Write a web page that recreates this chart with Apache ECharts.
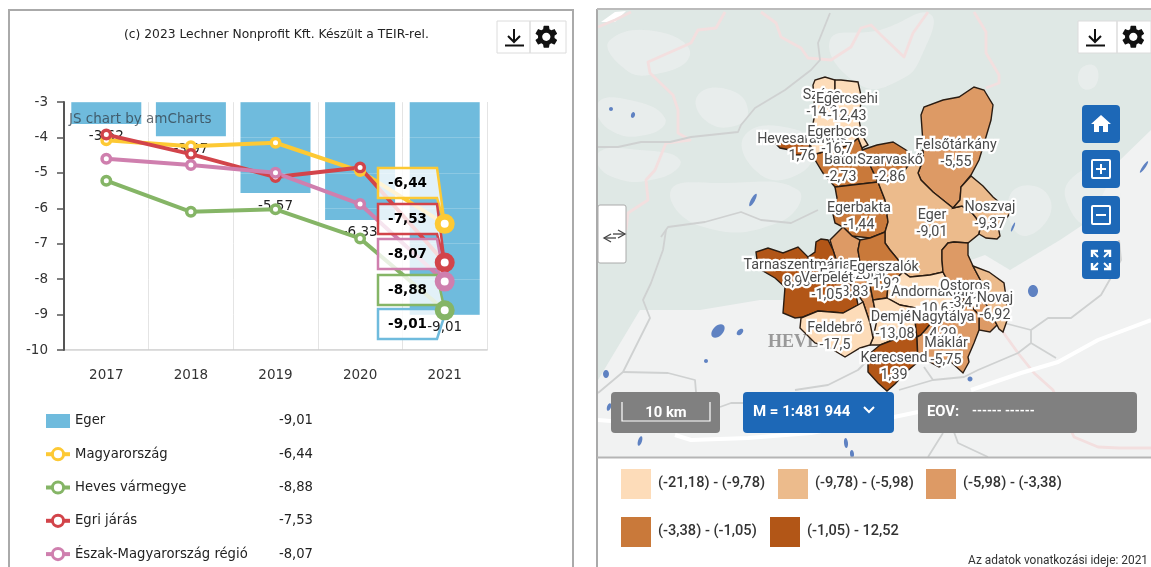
<!DOCTYPE html>
<html>
<head>
<meta charset="utf-8">
<title>Eger</title>
<script src="https://cdn.jsdelivr.net/npm/echarts@6/dist/echarts.min.js"></script>
<style>
  html, body { margin: 0; padding: 0; background: #fff; }
  #chart { width: 1151px; height: 567px; }
</style>
</head>
<body>
<div id="chart"></div>
<script>
// chart values
const years = ['2017', '2018', '2019', '2020', '2021'];
const yTicks = [-10, -3];
const egerValues = [-3.62, -3.97, -5.57, -6.33, -9.01];
const hungaryValues = [-4.08, -4.25, -4.15, -4.95, -6.44];
const hevesValues = [-5.22, -6.1, -6.03, -6.85, -8.88];
const districtValues = [-3.92, -4.47, -5.12, -4.85, -7.53];
const regionValues = [-4.6, -4.78, -5.0, -5.88, -8.07];
const seriesNames = ['Eger', 'Magyarország', 'Heves vármegye', 'Egri járás', 'Észak-Magyarország régió'];
const seriesColors = ['#6fbbdd', '#fdc934', '#85b566', '#d2444a', '#cf7fae'];

// municipalities, later ones paint their label over earlier ones
const muniNames = ['Hevesaranyos', 'Szúcs', 'Egercsehi', 'Bátor', 'Egerbocs', 'Szarvaskő', 'Felsőtárkány', 'Egerbakta', 'Eger', 'Noszvaj',
  'Tarnaszentmária', 'Egerszólát', 'Egerszalók', 'Verpelét', 'Andornaktálya', 'Ostoros', 'Novaj', 'Demjén', 'Nagytálya', 'Kerecsend', 'Maklár', 'Feldebrő'];
const muniValues = [1.76, -14.2, -12.43, -2.73, -16.7, -2.86, -5.55, -1.44, -9.01, -9.37,
  8.93, -3.83, -1.92, -1.05, -10.63, -3.41, -6.92, -13.08, 4.29, 1.39, -5.75, -17.5];

const classBreaks = [-21.18, -9.78, -5.98, -3.38, -1.05, 12.52];
const classColors = ['#fddcb9', '#ecbb8c', '#dd9a65', '#c9793a', '#b25617'];
const classLabels = ['(-21,18) - (-9,78)', '(-9,78) - (-5,98)', '(-5,98) - (-3,38)', '(-3,38) - (-1,05)', '(-1,05) - 12,52'];

// outlines and label anchors of the municipalities in page pixels
const muniShapes = {
  'Hevesaranyos': [[774,142],[785,138],[800,136],[810,145],[805,155],[795,155],[790,150],[780,148]],
  'Szúcs': [[815,113],[813,85],[815,80],[825,77],[835,80],[835,118],[827,112]],
  'Egercsehi': [[835,80],[841,80],[858,82],[862,100],[858,115],[835,118]],
  'Bátor': [[812,155],[823,173],[835,187],[878,182],[870,165],[862,148],[858,138],[850,145],[830,150]],
  'Egerbocs': [[815,113],[827,112],[835,118],[858,115],[862,135],[868,145],[862,148],[858,138],[850,145],[830,150],[812,155],[810,140]],
  'Szarvaskő': [[862,150],[877,145],[893,142],[906,150],[914,157],[905,170],[897,180],[878,182],[870,165]],
  'Felsőtárkány': [[921,115],[924,107],[943,100],[959,97],[974,87],[984,90],[993,105],[991,120],[983,147],[979,160],[971,175],[961,187],[960,200],[953,208],[943,200],[933,192],[921,180],[918,173],[923,160],[923,143]],
  'Egerbakta': [[835,187],[878,182],[885,200],[888,222],[885,232],[870,238],[852,236],[843,227],[835,223],[832,210],[837,198]],
  'Eger': [[914,157],[923,150],[923,160],[918,173],[921,180],[933,192],[943,200],[953,208],[962,206],[973,214],[981,224],[979,234],[968,243],[954,242],[948,243],[942,250],[942,260],[943,272],[930,275],[910,277],[903,272],[900,262],[890,250],[885,243],[885,232],[888,222],[885,200],[878,182],[897,180],[905,170]],
  'Noszvaj': [[961,187],[971,176],[983,186],[993,197],[1011,212],[1005,220],[998,226],[1000,236],[997,239],[986,238],[979,234],[981,224],[973,214],[962,206],[953,208],[960,200]],
  'Tarnaszentmária': [[758,268],[756,252],[768,248],[783,253],[798,247],[808,257],[812,275],[800,285],[785,287],[775,278]],
  'Egerszólát': [[843,227],[852,236],[860,240],[858,250],[862,275],[870,285],[873,300],[877,320],[870,323],[863,302],[855,290],[840,272],[833,250],[830,240]],
  'Egerszalók': [[860,240],[870,238],[885,232],[885,243],[890,250],[900,262],[903,272],[897,278],[888,285],[887,298],[873,300],[870,285],[862,275],[858,250]],
  'Verpelét': [[815,252],[816,242],[821,239],[828,240],[833,250],[840,272],[855,290],[858,305],[843,313],[818,311],[803,317],[795,318],[783,313],[785,287],[800,285],[812,275],[808,257]],
  'Andornaktálya': [[888,285],[897,278],[903,272],[910,277],[930,275],[943,272],[950,285],[965,300],[950,312],[932,322],[928,319],[915,319],[916,308],[900,305],[887,298]],
  'Ostoros': [[942,250],[948,243],[954,242],[968,243],[968,255],[973,266],[983,285],[984,300],[997,325],[990,332],[979,330],[979,315],[965,300],[950,285],[943,272],[942,260]],
  'Novaj': [[973,266],[989,272],[1004,283],[1006,297],[1009,315],[1003,332],[999,329],[997,325],[984,300],[983,285]],
  'Demjén': [[873,300],[887,298],[900,305],[916,308],[915,319],[916,330],[917,337],[898,338],[880,345],[870,345],[873,338],[877,320]],
  'Nagytálya': [[915,319],[928,319],[932,322],[927,328],[921,335],[917,337],[916,330]],
  'Kerecsend': [[868,362],[868,372],[878,383],[887,391],[895,384],[905,373],[918,362],[917,337],[898,338],[880,345],[868,355]],
  'Maklár': [[917,337],[921,335],[927,328],[932,322],[950,312],[965,300],[979,315],[979,330],[974,343],[968,357],[969,362],[963,373],[951,362],[939,367],[926,360],[918,362]],
  'Feldebrő': [[801,318],[818,311],[843,313],[858,305],[863,302],[870,323],[873,338],[870,345],[860,348],[845,357],[830,348],[815,343],[800,328]]
};
const muniLabelAt = {
  'Hevesaranyos': [802,140], 'Szúcs': [822,96], 'Egercsehi': [847,99.5], 'Bátor': [841,161], 'Egerbocs': [837,133],
  'Szarvaskő': [890,161], 'Felsőtárkány': [956,146], 'Egerbakta': [859,209], 'Eger': [932,216], 'Noszvaj': [990,208],
  'Tarnaszentmária': [797,266], 'Egerszólát': [853,276], 'Egerszalók': [884,268], 'Verpelét': [827,279], 'Andornaktálya': [937,293],
  'Ostoros': [965,287], 'Novaj': [995,299], 'Demjén': [895,318], 'Nagytálya': [943,318], 'Kerecsend': [894,359], 'Maklár': [946,344], 'Feldebrő': [835,329]
};

// base map scenery, page pixels
const forestArea = [[598,10],[1151,10],[1151,130],[1120,160],[1090,220],[1060,240],[1010,270],[985,255],[860,300],[760,300],[700,310],[640,310],[598,380]];
const clearings = [
  [[830,40],[880,30],[930,14],[922,55],[900,80],[860,85]],
  [[598,103],[630,100],[665,118],[650,134],[610,130]],
  [[598,153],[640,150],[680,160],[660,178],[610,176]],
  [[671,190],[720,183],[798,190],[780,222],[700,226]],
  [[698,95],[730,90],[748,110],[735,126],[705,120]],
  [[745,135],[790,128],[815,150],[790,178],[755,170]],
  [[610,40],[660,32],[690,55],[650,75],[620,65]],
  [[1070,180],[1100,170],[1120,200],[1090,225],[1068,205]],
  [[1010,195],[1040,188],[1050,215],[1020,235]],
  [[1080,70],[1095,66],[1096,85],[1082,88]]
];
const greyRoads = [
  [[598,147],[618,147],[641,142],[670,142],[691,137],[738,132],[741,125],[755,108],[785,90],[811,70],[820,60],[818,43],[830,13]],
  [[661,237],[668,227],[705,222],[741,212],[761,220],[791,223],[818,210]],
  [[666,230],[663,250],[651,283],[643,300],[650,318],[623,372],[598,393]],
  [[623,372],[668,373],[695,380],[696,392]],
  [[720,407],[731,403],[745,403]],
  [[795,390],[828,385],[858,370],[865,363]],
  [[1004,323],[1031,330],[1031,343],[1018,353],[978,370],[964,377],[933,380],[924,367]],
  [[1031,330],[1048,318],[1071,318],[1101,295],[1121,260],[1119,240]],
  [[1031,343],[1056,358]],
  [[933,380],[899,390]],
  [[954,432],[958,443],[988,457]],
  [[943,433],[928,457]]
];
const whiteRoads = [
  [[598,420],[611,421]],
  [[675,435],[691,440],[748,438],[811,433],[894,417],[918,412]],
  [[971,390],[1021,373],[1058,362],[1098,340],[1151,320]]
];
const pinkBorders = [
  [[598,27],[615,20],[631,12]],
  [[725,12],[716,28],[698,30],[691,43],[648,62],[650,73],[673,95],[678,110],[678,133],[690,140],[666,143],[655,170],[646,180],[648,200],[628,213],[626,230]],
  [[761,12],[776,23],[781,37],[801,48],[808,58],[831,60],[851,47],[861,28],[871,25],[881,35],[904,57],[913,33],[928,12]],
  [[974,12],[986,32],[986,53],[999,75],[999,83],[986,88]],
  [[1003,332],[1018,353],[1034,373],[1053,390],[1074,437],[1098,447],[1119,448],[1151,448]]
];
const lakes = [
  [718,331,8,5,0.8],[740,332,4,2.5,0.8],[606,374,3,4,0],[640,441,2,5,-0.3],[846,443,2,5,0.1],[852,454,2,4,0.1],
  [706,361,2,2,0],[609,407,2,4,-0.3],[1033,291,5,6,0],[970,379,2.5,2.5,0],[753,200,2,7,-0.5],[611,109,2,2,0],[633,115,2,3,-0.3],
  [1144,167,1.5,7,-0.6],[1013,227,1,5,-0.4]
];
const whiteLake = [[601,22],[615,12],[626,11],[615,22]];

const gearPath = 'M19.14 12.94c.04-.3.06-.61.06-.94 0-.32-.02-.64-.07-.94l2.03-1.58c.18-.14.23-.41.12-.61l-1.92-3.32c-.12-.22-.37-.29-.59-.22l-2.39.96c-.5-.38-1.03-.7-1.62-.94l-.36-2.54c-.04-.24-.24-.41-.48-.41h-3.84c-.24 0-.43.17-.47.41l-.36 2.54c-.59.24-1.13.57-1.62.94l-2.39-.96c-.22-.08-.47 0-.59.22L2.74 8.87c-.12.21-.08.47.12.61l2.03 1.58c-.05.3-.09.63-.09.94s.02.64.07.94l-2.03 1.58c-.18.14-.23.41-.12.61l1.92 3.32c.12.22.37.29.59.22l2.39-.96c.5.38 1.03.7 1.62.94l.36 2.54c.05.24.24.41.48.41h3.84c.24 0 .44-.17.47-.41l.36-2.54c.59-.24 1.13-.56 1.62-.94l2.39.96c.22.08.47 0 .59-.22l1.92-3.32c.12-.22.07-.47-.12-.61l-2.01-1.58zM12 15.6c-1.98 0-3.6-1.62-3.6-3.6s1.62-3.6 3.6-3.6 3.6 1.62 3.6 3.6-1.62 3.6-3.6 3.6z';
const homePath = 'M10 20v-6h4v6h5v-8h3L12 3 2 12h3v8z';

echarts.graphic.registerShape('gearIcon', echarts.graphic.extendPath(gearPath, {}));
echarts.graphic.registerShape('homeIcon', echarts.graphic.extendPath(homePath, {}));

const CHART_FONT = '"DejaVu Sans", Verdana, sans-serif';
const MAP_FONT = 'Roboto, sans-serif';

const fmt = v => String(v).replace('.', ',');

// register the municipalities as a map, y is flipped because it is read as latitude
echarts.registerMap('eger-jaras', {
  type: 'FeatureCollection',
  features: muniNames.map(name => {
    const ring = muniShapes[name].map(p => [p[0], -p[1]]);
    ring.push(ring[0]);
    return {
      type: 'Feature',
      properties: { name: name, cp: [muniLabelAt[name][0], -muniLabelAt[name][1]] },
      geometry: { type: 'Polygon', coordinates: [ring] }
    };
  })
});

// yellow, red, pink, green and blue balloons on the last year
const balloons = [
  { value: hungaryValues[4], top: 168, color: seriesColors[1] },
  { value: districtValues[4], top: 204, color: seriesColors[3] },
  { value: regionValues[4], top: 239, color: seriesColors[4] },
  { value: hevesValues[4], top: 275, color: seriesColors[2] },
  { value: egerValues[4], top: 309, color: seriesColors[0] }
];

function renderBalloon(params, api) {
  const b = balloons[params.dataIndex];
  const tip = api.coord([api.value(0), api.value(1)]);
  const x0 = 378, x1 = 437, y0 = b.top, y1 = b.top + 30;
  return {
    type: 'group',
    children: [
      {
        type: 'polygon',
        shape: { points: [[x0, y0], [x1, y0], tip, [x1, y1], [x0, y1]] },
        style: { fill: 'rgba(255,255,255,0.8)', stroke: b.color, lineWidth: 2.5 }
      },
      {
        type: 'text',
        style: {
          x: (x0 + x1) / 2, y: (y0 + y1) / 2, text: fmt(b.value),
          font: 'bold 13.5px ' + CHART_FONT, fill: '#000', align: 'center', verticalAlign: 'middle'
        }
      }
    ]
  };
}

function lineSeries(idx, values) {
  return {
    name: seriesNames[idx],
    type: 'line',
    z: 4,
    data: values.map((v, i) => i === values.length - 1 ? { value: v, symbolSize: 0 } : v),
    symbol: 'circle',
    symbolSize: 8.5,
    lineStyle: { color: seriesColors[idx], width: 4 },
    itemStyle: { color: '#fff', borderColor: seriesColors[idx], borderWidth: 3.5 },
    emphasis: { disabled: true }
  };
}

// the big ring of the last year sits on top of the balloons
function lastRing(idx, values) {
  return {
    type: 'scatter',
    z: 6,
    silent: true,
    symbol: 'circle',
    symbolSize: 14,
    itemStyle: { color: '#fff', borderColor: seriesColors[idx], borderWidth: 6, opacity: 1 },
    data: [[values.length - 1, values[values.length - 1]]]
  };
}

function poly(points, style, z, smooth) {
  return { type: 'polygon', z: z, silent: true, shape: { points: points, smooth: smooth || 0 }, style: style };
}
function polyline(points, stroke, width) {
  return { type: 'polyline', z: 0, silent: true, shape: { points: points }, style: { fill: null, stroke: stroke, lineWidth: width, lineJoin: 'round' } };
}
function box(x, y, w, h, fill, z, extra) {
  return { type: 'rect', z: z, silent: true, shape: Object.assign({ x: x, y: y, width: w, height: h }, extra && extra.shape), style: Object.assign({ fill: fill }, extra && extra.style) };
}
function label(x, y, text, font, fill, z, align) {
  return { type: 'text', z: z, silent: true, style: { x: x, y: y, text: text, font: font, fill: fill, align: align || 'left', verticalAlign: 'middle' } };
}
function icon(type, x, y, scale, fill, z) {
  return { type: type, z: z, silent: true, x: x, y: y, scaleX: scale, scaleY: scale, style: { fill: fill } };
}
function line(x1, y1, x2, y2, stroke, width, z) {
  return { type: 'line', z: z, silent: true, shape: { x1: x1, y1: y1, x2: x2, y2: y2 }, style: { stroke: stroke, lineWidth: width } };
}

// download and settings buttons
function toolButtons(x0, xDiv, width) {
  return [
    box(x0, 21, width, 32, '#fff', 20, { style: { stroke: '#dcdcdc', lineWidth: 1 } }),
    line(xDiv, 21, xDiv, 53, '#dcdcdc', 1.5, 21),
    line(x0 + 17, 29, x0 + 17, 42, '#111', 2, 21),
    { type: 'polyline', z: 21, silent: true, shape: { points: [[x0 + 11, 36], [x0 + 17, 42], [x0 + 23, 36]] }, style: { fill: null, stroke: '#111', lineWidth: 2 } },
    line(x0 + 8, 45.5, x0 + 27, 45.5, '#111', 2, 21),
    icon('gearIcon', xDiv + 2.5, 23, 1.15, '#111', 21)
  ];
}

function mapButton(y, children) {
  return [box(1082, y, 38, 38, '#1d68b7', 20, { shape: { r: 4 } })].concat(children);
}

const WHITE = '#fff';
const graphics = []
  // panels
  .concat([
    box(9, 10, 564, 570, '#fff', 0, { style: { stroke: '#aaa', lineWidth: 2 } }),
    box(597, 9, 560, 449, '#f1f2f2', 0)
  ])
  // base map
  .concat([poly(forestArea, { fill: '#dfe8e5' }, 0)])
  .concat(clearings.map(c => poly(c, { fill: '#eef0f0', opacity: 0.6 }, 0, 0.5)))
  .concat([poly(whiteLake, { fill: '#fff' }, 0)])
  .concat(pinkBorders.map(p => polyline(p, '#f3dfdf', 2.8)))
  .concat(greyRoads.map(p => polyline(p, '#cfd1d1', 1.8)))
  .concat(whiteRoads.map(p => polyline(p, '#fff', 4)))
  .concat(lakes.map(l => ({
    type: 'ellipse', z: 0, silent: true, rotation: l[4], x: l[0], y: l[1],
    shape: { cx: 0, cy: 0, rx: l[2], ry: l[3] }, style: { fill: '#5f82c2' }
  })))
  .concat([
    label(768, 342, 'HEVES', 'bold 18px "Liberation Serif", serif', '#999', 0),
    // panel edges of the map
    line(597, 9, 597, 567, '#aaa', 2, 1),
    line(597, 9, 1151, 9, '#bbb', 2, 1),
    line(597, 457.5, 1151, 457.5, '#b5b5b5', 2, 1)
  ])
  // chart texts
  .concat([
    label(124, 35, '(c) 2023 Lechner Nonprofit Kft. Készült a TEIR-rel.', '12.3px ' + CHART_FONT, '#222', 20),
    label(69, 119, 'JS chart by amCharts', '13.5px ' + CHART_FONT, 'rgba(50,60,70,0.75)', 20)
  ])
  .concat(toolButtons(497, 530, 69))
  .concat(toolButtons(1078, 1117, 73))
  // collapse handle
  .concat([
    box(598, 205, 28, 58, '#fff', 20, { shape: { r: 2 }, style: { stroke: '#aaa', lineWidth: 1 } }),
    { type: 'polyline', z: 21, silent: true, shape: { points: [[611, 234], [604, 238], [611, 242]] }, style: { fill: null, stroke: '#444', lineWidth: 1.3 } },
    line(604, 238, 616, 238, '#444', 1.3, 21),
    { type: 'polyline', z: 21, silent: true, shape: { points: [[618, 230], [625, 234], [618, 238]] }, style: { fill: null, stroke: '#444', lineWidth: 1.3 } },
    line(613, 234, 625, 234, '#444', 1.3, 21)
  ])
  // map buttons
  .concat(mapButton(105, [icon('homeIcon', 1089, 112, 1, WHITE, 21)]))
  .concat(mapButton(150, [
    box(1092, 160, 18, 18, 'transparent', 21, { shape: { r: 1 }, style: { stroke: WHITE, lineWidth: 2 } }),
    line(1096, 169, 1106, 169, WHITE, 2, 21),
    line(1101, 164, 1101, 174, WHITE, 2, 21)
  ]))
  .concat(mapButton(196, [
    box(1092, 206, 18, 18, 'transparent', 21, { shape: { r: 1 }, style: { stroke: WHITE, lineWidth: 2 } }),
    line(1096, 215, 1106, 215, WHITE, 2, 21)
  ]))
  .concat(mapButton(241, [
    { type: 'polyline', z: 21, silent: true, shape: { points: [[1092, 257], [1092, 251], [1098, 251]] }, style: { fill: null, stroke: WHITE, lineWidth: 2.4 } },
    { type: 'polyline', z: 21, silent: true, shape: { points: [[1104, 251], [1110, 251], [1110, 257]] }, style: { fill: null, stroke: WHITE, lineWidth: 2.4 } },
    { type: 'polyline', z: 21, silent: true, shape: { points: [[1092, 263], [1092, 269], [1098, 269]] }, style: { fill: null, stroke: WHITE, lineWidth: 2.4 } },
    { type: 'polyline', z: 21, silent: true, shape: { points: [[1104, 269], [1110, 269], [1110, 263]] }, style: { fill: null, stroke: WHITE, lineWidth: 2.4 } },
    line(1093, 252, 1098, 257, WHITE, 2, 21), line(1109, 252, 1104, 257, WHITE, 2, 21),
    line(1093, 268, 1098, 263, WHITE, 2, 21), line(1109, 268, 1104, 263, WHITE, 2, 21)
  ]))
  // scale, zoom level and coordinate bars
  .concat([
    box(611, 392, 109, 41, '#808080', 20, { shape: { r: 4 } }),
    { type: 'polyline', z: 21, silent: true, shape: { points: [[622, 402], [622, 421], [710, 421], [710, 402]] }, style: { fill: null, stroke: WHITE, lineWidth: 1.2 } },
    label(666, 413, '10 km', 'bold 14.8px ' + MAP_FONT, WHITE, 21, 'center'),
    box(743, 392, 151, 41, '#1d68b7', 20, { shape: { r: 4 } }),
    label(753, 412, 'M = 1:481 944', 'bold 15px ' + MAP_FONT, WHITE, 21),
    { type: 'polyline', z: 21, silent: true, shape: { points: [[864, 407], [869, 412], [874, 407]] }, style: { fill: null, stroke: WHITE, lineWidth: 2 } },
    box(918, 392, 219, 41, '#808080', 20, { shape: { r: 4 } }),
    label(927, 412, 'EOV:', 'bold 14.8px ' + MAP_FONT, WHITE, 21),
    label(972, 412, '------ ------', 'bold 12.6px ' + MAP_FONT, WHITE, 21),
    label(1148, 561, 'Az adatok vonatkozási ideje: 2021', '11.9px ' + MAP_FONT, '#333', 20, 'right')
  ]);

// map class legend from the class lists
const swatchX = [621, 778, 926, 621, 770];
const swatchY = [469, 469, 469, 517, 517];
classLabels.forEach((txt, i) => {
  graphics.push(box(swatchX[i], swatchY[i], 30, 30, classColors[i], 20));
  graphics.push(label(swatchX[i] + 37, swatchY[i] + 14, txt, '500 14.6px ' + MAP_FONT, '#333', 20));
});

const barLabel = {
  show: true,
  position: 'bottom',
  distance: 6,
  color: '#222',
  fontSize: 13.5,
  formatter: p => fmt(p.value)
};
const lastYear = years.length - 1;

const option = {
  animation: false,
  textStyle: { fontFamily: CHART_FONT },
  graphic: { elements: graphics },
  grid: { left: 64, top: 102, width: 423, height: 248, containLabel: false },
  legend: {
    left: 44,
    top: 414,
    padding: 0,
    orient: 'vertical',
    selectedMode: false,
    itemWidth: 24,
    itemHeight: 14,
    itemGap: 19.1,
    lineStyle: { width: 4 },
    itemStyle: { borderWidth: 3 },
    data: seriesNames.map((name, i) => i === 0 ? { name: name, icon: 'rect' } : { name: name }),
    formatter: name => {
      const values = [egerValues, hungaryValues, hevesValues, districtValues, regionValues][seriesNames.indexOf(name)];
      return '{n|' + name + '}{v|' + fmt(values[values.length - 1]) + '}';
    },
    textStyle: {
      rich: {
        n: { width: 203, fontSize: 13.2, color: '#222', fontFamily: CHART_FONT },
        v: { width: 35, align: 'right', fontSize: 13.2, color: '#222', fontFamily: CHART_FONT }
      }
    }
  },
  xAxis: {
    type: 'category',
    data: years,
    axisLine: { lineStyle: { color: '#ccc', width: 1.5 } },
    axisTick: { alignWithLabel: true, length: 6, lineStyle: { color: '#666' } },
    axisLabel: { color: '#333', fontSize: 13.5, margin: 18 },
    splitLine: { show: true, lineStyle: { color: '#e4e4e4', width: 1 } }
  },
  yAxis: {
    type: 'value',
    min: yTicks[0],
    max: yTicks[1],
    interval: 1,
    z: 3,
    axisLine: { show: true, onZero: false, lineStyle: { color: '#555', width: 2 } },
    axisTick: { show: true, length: 7, lineStyle: { color: '#555', width: 1.5 } },
    axisLabel: { color: '#333', fontSize: 13.5, margin: 16, formatter: v => String(v) },
    splitLine: { show: true, lineStyle: { color: 'rgba(255,255,255,0.2)', width: 1 } }
  },
  visualMap: {
    show: false,
    seriesIndex: 6,
    pieces: classColors.map((c, i) => ({ gte: classBreaks[i], lt: classBreaks[i + 1], color: c }))
  },
  series: [
    {
      name: seriesNames[0],
      type: 'bar',
      z: 2,
      data: egerValues.map((v, i) => i === lastYear ? { value: v, label: { show: false } } : v),
      barWidth: 70,
      itemStyle: { color: seriesColors[0] },
      label: barLabel,
      emphasis: { disabled: true }
    },
    lineSeries(1, hungaryValues),
    lineSeries(2, hevesValues),
    lineSeries(3, districtValues),
    lineSeries(4, regionValues),
    {
      type: 'custom',
      z: 5,
      silent: true,
      renderItem: renderBalloon,
      encode: { x: 0, y: 1 },
      data: balloons.map(b => [4, b.value])
    },
    {
      type: 'map',
      map: 'eger-jaras',
      z: 3,
      silent: true,
      left: 0,
      top: 0,
      width: 1151,
      height: 567,
      aspectScale: 1,
      boundingCoords: [[0, 0], [1151, -567]],
      roam: false,
      itemStyle: { borderColor: '#2a1c12', borderWidth: 1.4 },
      label: {
        show: true,
        formatter: p => p.name + '\n' + fmt(p.value),
        fontFamily: MAP_FONT,
        fontSize: 14.3,
        lineHeight: 17,
        color: '#4a4a4a',
        textBorderColor: '#fff',
        textBorderWidth: 4.5,
        align: 'center',
        verticalAlign: 'middle'
      },
      data: muniNames.map((name, i) => ({ name: name, value: muniValues[i] }))
    },
    lastRing(1, hungaryValues),
    lastRing(2, hevesValues),
    lastRing(3, districtValues),
    lastRing(4, regionValues),
    // see-through twin of the last bar, its label stays above the blue balloon
    {
      type: 'bar',
      z: 7,
      silent: true,
      barWidth: 70,
      barGap: '-100%',
      data: egerValues.map((v, i) => i === lastYear ? v : null),
      itemStyle: { color: 'rgba(0,0,0,0)' },
      label: barLabel
    }
  ]
};

const chart = echarts.init(document.getElementById('chart'), null, { renderer: 'canvas' });
chart.setOption(option);
</script>
</body>
</html>
